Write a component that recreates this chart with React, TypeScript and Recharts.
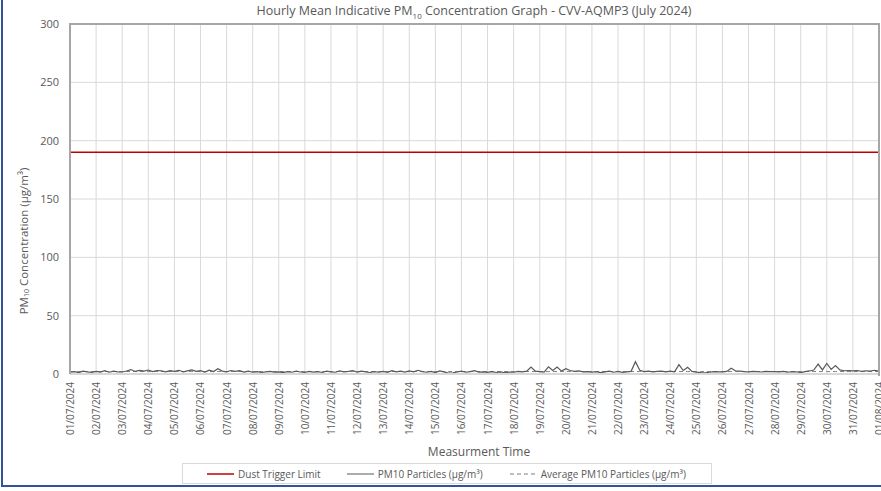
import React from 'react';
import { LineChart, Line, XAxis, YAxis, CartesianGrid } from 'recharts';

// Day labels along the x axis (one per 24 h)
const xTickLabels = [
  '01/07/2024', '02/07/2024', '03/07/2024', '04/07/2024', '05/07/2024', '06/07/2024', '07/07/2024', '08/07/2024',
  '09/07/2024', '10/07/2024', '11/07/2024', '12/07/2024', '13/07/2024', '14/07/2024', '15/07/2024', '16/07/2024',
  '17/07/2024', '18/07/2024', '19/07/2024', '20/07/2024', '21/07/2024', '22/07/2024', '23/07/2024', '24/07/2024',
  '25/07/2024', '26/07/2024', '27/07/2024', '28/07/2024', '29/07/2024', '30/07/2024', '31/07/2024', '01/08/2024',
];

const yTicks = [0, 50, 100, 150, 200, 250, 300];

// PM10 readings, every 4 hours (00,04,08,12,16,20) from 01/07 00:00
const pm10 = [
  1.5, 2.0, 1.2, 2.5, 1.8, 1.4,
  2.2, 1.6, 2.8, 1.5, 2.4, 1.9,
  1.7, 2.6, 3.8, 2.2, 3.1, 2.4,
  3.4, 2.1, 3.0, 2.6, 1.8, 2.9,
  2.3, 3.2, 1.9, 2.7, 3.5, 2.2,
  2.8, 1.6, 3.3, 2.1, 4.6, 2.5,
  1.9, 3.0, 2.2, 2.8, 1.7, 2.4,
  1.5, 2.0, 1.3, 1.8, 2.2, 1.6,
  1.8, 1.2, 2.1, 1.5, 2.5, 1.7,
  1.4, 2.2, 1.6, 2.0, 1.3, 2.4,
  1.9, 1.5, 2.6, 1.8, 2.2, 3.0,
  1.6, 2.4, 1.8, 1.3, 2.0, 1.5,
  2.2, 1.4, 2.8, 1.9, 2.5, 1.6,
  2.7, 1.8, 3.2, 2.0, 1.5, 2.3,
  1.2, 2.6, 1.8, 0.8, 0.9, 1.7,
  2.4, 1.5, 2.1, 2.8, 1.6, 1.9,
  1.4, 2.0, 1.3, 1.8, 1.1, 1.6,
  1.5, 2.2, 1.8, 2.5, 6.0, 2.4,
  2.0, 1.6, 6.2, 3.0, 6.0, 2.5,
  4.5, 3.0, 2.2, 2.6, 1.8, 2.1,
  1.6, 2.0, 1.2, 1.8, 2.4, 1.5,
  2.2, 1.4, 1.9, 2.3, 10.5, 3.2,
  2.0, 2.4, 1.8, 2.2, 2.5, 1.9,
  2.4, 1.8, 8.0, 3.0, 5.8, 2.2,
  1.6, 1.2, 0.9, 1.5, 2.0, 1.8,
  1.8, 2.2, 5.0, 2.8, 2.4, 2.0,
  1.9, 2.3, 2.0, 1.7, 2.2, 2.1,
  2.0, 1.8, 2.2, 1.5, 2.0, 1.9,
  1.2, 2.0, 2.6, 3.4, 8.5, 3.5,
  9.0, 4.0, 7.2, 3.5, 2.8, 3.0,
  2.6, 3.0, 2.2, 2.8, 2.4, 3.2,
  2.5,
];

const dustTriggerLimit = 190;
const averagePm10 = 2.1;

const STEP_HOURS = 4;

const data = pm10.map((v, i) => ({
  hour: i * STEP_HOURS,
  pm10: v,
  limit: dustTriggerLimit,
  average: averagePm10,
}));

const xTicks = xTickLabels.map((_, i) => i * 24);

const TEXT = '#595959';
const FONT = '"Open Sans", "Liberation Sans", sans-serif';

const DateTick = (props: any) => {
  const { x, y, payload } = props;
  const label = xTickLabels[Math.round(payload.value / 24)];
  return (
    <text
      x={x}
      y={y}
      transform={`rotate(-90 ${x} ${y})`}
      textAnchor="end"
      dominantBaseline="central"
      fill={TEXT}
      fontSize={10}
      fontFamily={FONT}
    >
      {label}
    </text>
  );
};

const YLabel = (props: any) => {
  const vb = props.viewBox || { y: 24, height: 350 };
  const cx = 23;
  const cy = vb.y + vb.height / 2 + 42;
  return (
    <text
      x={cx}
      y={cy}
      transform={`rotate(-90 ${cx} ${cy})`}
      textAnchor="middle"
      dominantBaseline="central"
      fill={TEXT}
      fontSize={11.5}
      fontFamily={FONT}
    >
      PM<tspan fontSize={7} dy={3}>10</tspan>
      <tspan dy={-3}> Concentration (µg/m³)</tspan>
    </text>
  );
};

const LegendIcon = ({ color, dash, width = 1 }: { color: string; dash?: string; width?: number }) => (
  <svg width={27} height={6} style={{ marginRight: 4 }}>
    <line x1={0} y1={3} x2={27} y2={3} stroke={color} strokeWidth={width} strokeDasharray={dash} />
  </svg>
);

export default function App() {
  return (
    <div
      style={{
        position: 'absolute',
        left: 0,
        top: 0,
        width: 881,
        height: 491,
        background: '#fff',
        fontFamily: FONT,
        color: TEXT,
        overflow: 'hidden',
      }}
    >
      {/* outer frame (left + bottom visible) */}
      <div
        style={{
          position: 'absolute',
          left: 1,
          top: -4,
          width: 890,
          height: 489,
          borderLeft: '2px solid #2f5597',
          borderBottom: '2px solid #2f5597',
        }}
      />

      <div
        style={{
          position: 'absolute',
          top: 2,
          left: 0,
          width: 948,
          textAlign: 'center',
          fontSize: 12.5,
          whiteSpace: 'nowrap',
        }}
      >
        Hourly Mean Indicative PM<sub style={{ fontSize: 8 }}>10</sub> Concentration Graph - CVV-AQMP3 (July 2024)
      </div>

      <LineChart width={881} height={491} data={data} margin={{ top: 24, right: 2, bottom: 0, left: 0 }}>
        <CartesianGrid stroke="#d9d9d9" strokeWidth={1} />
        <XAxis
          dataKey="hour"
          type="number"
          domain={[0, 744]}
          ticks={xTicks}
          interval={0}
          height={117}
          tick={<DateTick />}
          tickLine={false}
          axisLine={{ stroke: '#d9d9d9', strokeWidth: 2 }}
        />
        <YAxis
          type="number"
          domain={[0, 300]}
          ticks={yTicks}
          width={70}
          tickLine={false}
          tickMargin={5}
          tick={{ fill: TEXT, fontSize: 11, fontFamily: FONT }}
          axisLine={{ stroke: '#a6a6a6', strokeWidth: 2 }}
          label={{ content: <YLabel /> }}
        />
        <Line
          dataKey="limit"
          stroke="#c00000"
          strokeWidth={1.5}
          dot={false}
          isAnimationActive={false}
        />
        <Line
          dataKey="average"
          stroke="#7f7f7f"
          strokeWidth={1}
          strokeDasharray="4 3"
          dot={false}
          isAnimationActive={false}
        />
        <Line
          dataKey="pm10"
          stroke="#595959"
          strokeWidth={1.2}
          dot={false}
          isAnimationActive={false}
        />
      </LineChart>

      {/* plot area border (top / right) */}
      <div
        style={{
          position: 'absolute',
          left: 69,
          top: 23,
          width: 809,
          height: 351,
          borderTop: '2px solid #a6a6a6',
          borderRight: '2px solid #a6a6a6',
          pointerEvents: 'none',
        }}
      />

      <div
        style={{
          position: 'absolute',
          top: 443,
          left: 0,
          width: 958,
          textAlign: 'center',
          fontSize: 12,
        }}
      >
        Measurment Time
      </div>

      <div
        style={{
          position: 'absolute',
          left: 182,
          top: 463,
          width: 530,
          height: 21,
          boxSizing: 'border-box',
          border: '1px solid #d9d9d9',
          display: 'flex',
          alignItems: 'center',
          fontSize: 10,
          whiteSpace: 'nowrap',
        }}
      >
        <div style={{ display: 'flex', alignItems: 'center', marginLeft: 24 }}>
          <LegendIcon color="#c00000" width={1.5} />
          Dust Trigger Limit
        </div>
        <div style={{ display: 'flex', alignItems: 'center', marginLeft: 26 }}>
          <LegendIcon color="#595959" />
          PM10 Particles (µg/m³)
        </div>
        <div style={{ display: 'flex', alignItems: 'center', marginLeft: 27 }}>
          <LegendIcon color="#7f7f7f" dash="4 3" />
          Average PM10 Particles (µg/m³)
        </div>
      </div>
    </div>
  );
}
